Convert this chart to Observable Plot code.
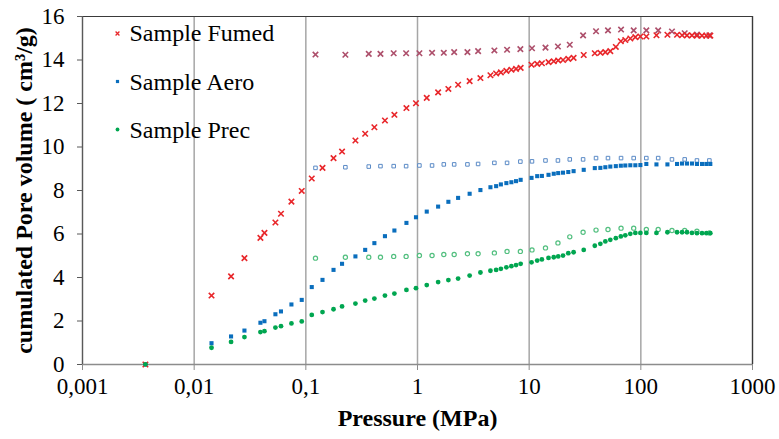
<!DOCTYPE html>
<html><head><meta charset="utf-8">
<script src="https://cdn.jsdelivr.net/npm/d3@7"></script>
<script src="https://cdn.jsdelivr.net/npm/@observablehq/plot@0.6"></script>
<style>body{margin:0;background:#fff} #chart{width:779px;height:439px} svg text{font-family:"Liberation Serif","Times New Roman",serif !important}</style>
</head><body><div id="chart"></div>
<script>
// Intrusion (filled markers): pressure in MPa, shared by the three samples
const intrusionPressure = [0.00366, 0.0143, 0.0214, 0.0282, 0.0392, 0.0426, 0.0534, 0.0599, 0.0743, 0.0919,
  0.113, 0.141, 0.177, 0.211, 0.278, 0.340, 0.411, 0.511, 0.621, 0.796,
  0.969, 1.21, 1.53, 1.89, 2.31, 2.93, 3.66, 4.50, 5.06, 5.58,
  6.25, 6.93, 7.63, 8.39, 10.5, 11.8, 13.0, 14.9, 16.6, 18.2,
  20.1, 22.4, 25.0, 30.8, 38.7, 43.4, 48.1, 53.3, 59.7, 66.2,
  72.6, 80.5, 89.3, 99.1, 112, 138, 173, 211, 234, 259,
  287, 318, 353, 386, 419];
const fumedIntrusion = [0, 3.17, 4.05, 4.89, 5.82, 6.05, 6.53, 6.93, 7.49, 7.98,
  8.55, 9.04, 9.49, 9.79, 10.30, 10.61, 10.91, 11.22, 11.48, 11.79,
  12.01, 12.26, 12.51, 12.67, 12.86, 13.03, 13.17, 13.30, 13.38, 13.43,
  13.50, 13.55, 13.59, 13.64, 13.78, 13.82, 13.85, 13.90, 13.94, 13.98,
  14.00, 14.05, 14.10, 14.23, 14.31, 14.33, 14.36, 14.41, 14.60, 14.86,
  14.92, 14.99, 15.05, 15.08, 15.08, 15.14, 15.16, 15.16, 15.14, 15.13,
  15.13, 15.12, 15.12, 15.12, 15.12];
const aeroIntrusion = [0, 0.98, 1.29, 1.56, 1.92, 1.99, 2.31, 2.44, 2.76, 2.97,
  3.56, 3.89, 4.35, 4.63, 4.97, 5.27, 5.58, 5.90, 6.16, 6.51,
  6.77, 7.03, 7.26, 7.48, 7.66, 7.85, 8.02, 8.15, 8.20, 8.28,
  8.34, 8.38, 8.43, 8.49, 8.58, 8.66, 8.67, 8.72, 8.77, 8.80,
  8.82, 8.85, 8.89, 8.95, 9.03, 9.04, 9.07, 9.10, 9.12, 9.14,
  9.15, 9.16, 9.16, 9.17, 9.22, 9.20, 9.20, 9.22, 9.24, 9.24,
  9.24, 9.22, 9.22, 9.22, 9.22];
const precIntrusion = [0.01, 0.77, 1.04, 1.26, 1.49, 1.53, 1.70, 1.76, 1.89, 1.98,
  2.28, 2.41, 2.54, 2.67, 2.80, 2.94, 3.03, 3.17, 3.26, 3.43,
  3.51, 3.65, 3.79, 3.88, 3.95, 4.09, 4.23, 4.31, 4.35, 4.40,
  4.47, 4.52, 4.57, 4.63, 4.70, 4.78, 4.83, 4.90, 4.93, 4.97,
  5.01, 5.12, 5.16, 5.27, 5.46, 5.55, 5.66, 5.73, 5.81, 5.89,
  5.94, 6.01, 6.05, 6.05, 6.05, 6.05, 6.08, 6.08, 6.08, 6.08,
  6.05, 6.04, 6.04, 6.04, 6.04];

// Extrusion (hollow markers)
const extrusionPressure = [0.122, 0.226, 0.366, 0.466, 0.612, 0.791, 1.04, 1.35, 1.72, 2.13,
  2.80, 3.49, 4.88, 6.34, 8.34, 10.6, 14.0, 18.1, 23.1, 30.4,
  39.7, 50.8, 66.5, 86.3, 112, 143, 190, 247, 318, 411];
const fumedExtrusion = [14.25, 14.24, 14.28, 14.28, 14.31, 14.31, 14.31, 14.33, 14.33, 14.36,
  14.36, 14.41, 14.44, 14.47, 14.50, 14.54, 14.57, 14.62, 14.70, 15.13,
  15.32, 15.36, 15.40, 15.36, 15.36, 15.36, 15.31, 15.23, 15.17, 15.13];
const aeroExtrusion = [9.04, 9.07, 9.10, 9.12, 9.12, 9.12, 9.15, 9.15, 9.20, 9.20,
  9.20, 9.22, 9.27, 9.27, 9.33, 9.34, 9.38, 9.38, 9.43, 9.43,
  9.49, 9.49, 9.49, 9.49, 9.49, 9.49, 9.43, 9.43, 9.38, 9.38];
const precExtrusion = [4.89, 4.93, 4.93, 4.93, 4.97, 4.97, 5.01, 5.01, 5.06, 5.06,
  5.09, 5.09, 5.13, 5.20, 5.20, 5.27, 5.36, 5.59, 5.87, 6.08,
  6.18, 6.21, 6.27, 6.27, 6.21, 6.21, 6.16, 6.16, 6.13, 6.05];

const xTicks = [0.001, 0.01, 0.1, 1, 10, 100, 1000];
const yTicks = [0, 2, 4, 6, 8, 10, 12, 14, 16];
const legendLabels = ["Sample Fumed", "Sample Aero", "Sample Prec"];
const xTitle = "Pressure (MPa)";
const yTitle = "cumulated Pore volume ( cm³/g)";

const rows = (ps, vs) => ps.map((p, i) => ({p, v: vs[i]}));
const fmt = d => String(d).replace(".", ",");
const serif = "Liberation Serif";

const chart = Plot.plot({
  width: 779, height: 439,
  marginLeft: 82, marginRight: 27, marginTop: 16, marginBottom: 75,
  style: {fontFamily: serif, fontSize: "23px", background: "#fff", color: "#000", overflow: "visible"},
  x: {type: "log", domain: [0.001, 1000], label: null},
  y: {domain: [0, 16], label: null},
  marks: [
    Plot.gridX(xTicks, {stroke: "#a6a6a6", strokeOpacity: 1, strokeWidth: 1.5}),
    Plot.ruleY([0], {stroke: "#8c8c8c", strokeWidth: 1.5}),
    Plot.ruleY([16], {stroke: "#3a3a3a", strokeWidth: 1.2}),
    Plot.ruleX([1000], {stroke: "#3a3a3a", strokeWidth: 1.2}),
    Plot.ruleX([0.001], {stroke: "#595959", strokeWidth: 1.2}),
    Plot.axisX(xTicks, {tickFormat: fmt, tickSize: 6, tickPadding: 7, stroke: "#8c8c8c", fontSize: 23, fontFamily: serif, label: null}),
    Plot.axisY(yTicks, {tickSize: 5, tickPadding: 13, stroke: "#595959", fontSize: 23, fontFamily: serif, label: null}),
    // extrusion (hollow)
    Plot.dot(rows(extrusionPressure, aeroExtrusion), {x: "p", y: "v", symbol: "square", r: 2.0, fill: "#fff", stroke: "#5a8ac6", strokeWidth: 1}),
    Plot.dot(rows(extrusionPressure, precExtrusion), {x: "p", y: "v", symbol: "circle", r: 2.1, fill: "#fff", stroke: "#52bf7f", strokeWidth: 1.2}),
    Plot.dot(rows(extrusionPressure, fumedExtrusion), {x: "p", y: "v", symbol: "times", r: 2.6, fill: "none", stroke: "#ad4f6b", strokeWidth: 1.6}),
    // intrusion (filled)
    Plot.dot(rows(intrusionPressure, aeroIntrusion), {x: "p", y: "v", symbol: "square", r: 2.3, fill: "#0a6ebd", stroke: "none"}),
    Plot.dot(rows(intrusionPressure, fumedIntrusion), {x: "p", y: "v", symbol: "times", r: 2.6, fill: "none", stroke: "#e8262a", strokeWidth: 1.6}),
    Plot.dot(rows(intrusionPressure, precIntrusion), {x: "p", y: "v", symbol: "circle", r: 2.4, fill: "#00a650", stroke: "none"}),
    // legend
    Plot.dot([legendLabels[0]], {frameAnchor: "top-left", dx: 35, dy: 17, symbol: "times", r: 1.9, stroke: "#e8262a", strokeWidth: 1.3}),
    Plot.dot([legendLabels[1]], {frameAnchor: "top-left", dx: 35, dy: 65, symbol: "square", r: 1.8, fill: "#0a6ebd", stroke: "none"}),
    Plot.dot([legendLabels[2]], {frameAnchor: "top-left", dx: 35, dy: 113, symbol: "circle", r: 1.9, fill: "#00a650", stroke: "none"}),
    Plot.text([legendLabels[0]], {frameAnchor: "top-left", dx: 47, dy: 17, textAnchor: "start", lineAnchor: "middle", fontSize: 24, fontFamily: serif, fill: "#000"}),
    Plot.text([legendLabels[1]], {frameAnchor: "top-left", dx: 47, dy: 66, textAnchor: "start", lineAnchor: "middle", fontSize: 24, fontFamily: serif, fill: "#000"}),
    Plot.text([legendLabels[2]], {frameAnchor: "top-left", dx: 47, dy: 114, textAnchor: "start", lineAnchor: "middle", fontSize: 24, fontFamily: serif, fill: "#000"}),
    // axis titles
    Plot.text([xTitle], {frameAnchor: "bottom", dy: 54, lineAnchor: "middle", fontSize: 24, fontWeight: "bold", fontFamily: serif, fill: "#000"}),
    Plot.text([yTitle], {frameAnchor: "left", dx: -58, rotate: -90, textAnchor: "middle", lineAnchor: "middle", fontSize: 24, fontWeight: "bold", fontFamily: serif, fill: "#000"})
  ]
});
document.getElementById("chart").appendChild(chart);
</script>
</body></html>
